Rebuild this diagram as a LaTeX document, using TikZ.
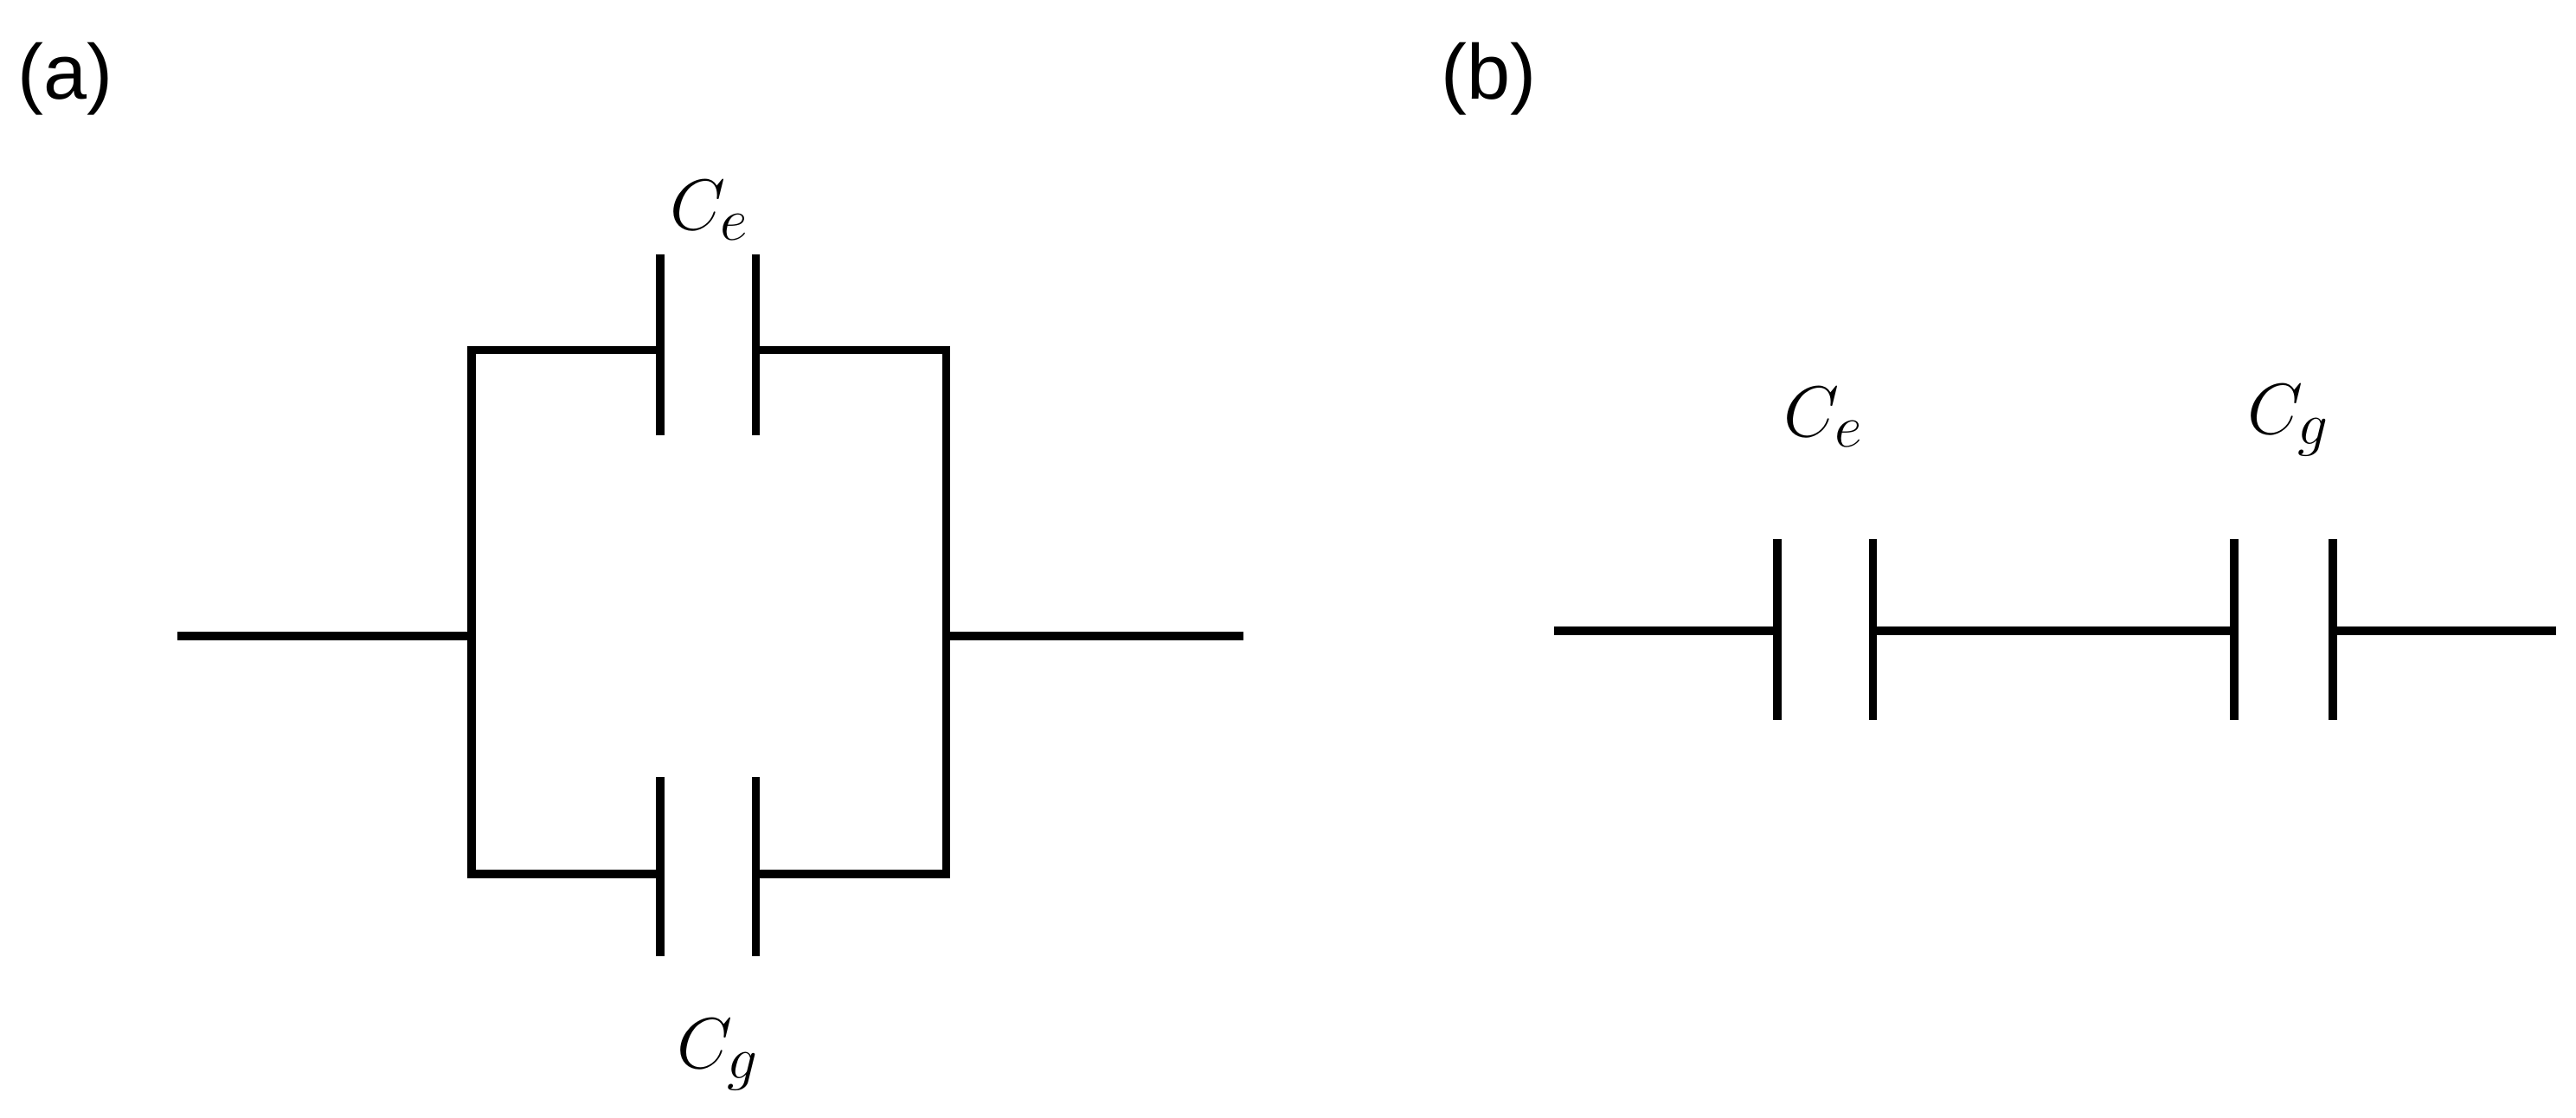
\documentclass[tikz,border=0pt]{standalone}
\usepackage{fontspec}
\setsansfont{Liberation Sans}
\begin{document}
\begin{tikzpicture}[x=0.02cm,y=-0.02cm,
  wire/.style={line width=2.9pt},
  lbl/.style={font=\fontsize{30}{34}\selectfont},
  tag/.style={font=\sffamily\fontsize{27}{32}\selectfont}]
\useasboundingbox (0,0) rectangle (1568,680);
% (a)
\node[tag] (ta) at (40,48) {(a)};
\coordinate (L) at (108,387); \coordinate (Lj) at (287,387);
\coordinate (R) at (757,387); \coordinate (Rj) at (576,387);
\draw[wire] (L) -- (Lj);
\draw[wire] (Rj) -- (R);
\draw[wire,line cap=rect] (402,213) -- (287,213) -- (287,532) -- (402,532);
\draw[wire,line cap=rect] (460,213) -- (576,213) -- (576,532) -- (460,532);
\draw[wire] (402,155) -- (402,265); \draw[wire] (460,155) -- (460,265);
\draw[wire] (402,473) -- (402,582); \draw[wire] (460,473) -- (460,582);
\node[lbl] (cea) at (432,128) {$C_e$};
\node[lbl] (cga) at (437,642) {$C_g$};
% (b)
\node[tag] (tb) at (906,48) {(b)};
\draw[wire] (946,384) -- (1082,384);
\draw[wire] (1082,328) -- (1082,438); \draw[wire] (1140,328) -- (1140,438);
\draw[wire] (1140,384) -- (1360,384);
\draw[wire] (1360,328) -- (1360,438); \draw[wire] (1420,328) -- (1420,438);
\draw[wire] (1420,384) -- (1556,384);
\node[lbl] (ceb) at (1110,254) {$C_e$};
\node[lbl] (cgb) at (1393,256) {$C_g$};
\end{tikzpicture}
\end{document}
